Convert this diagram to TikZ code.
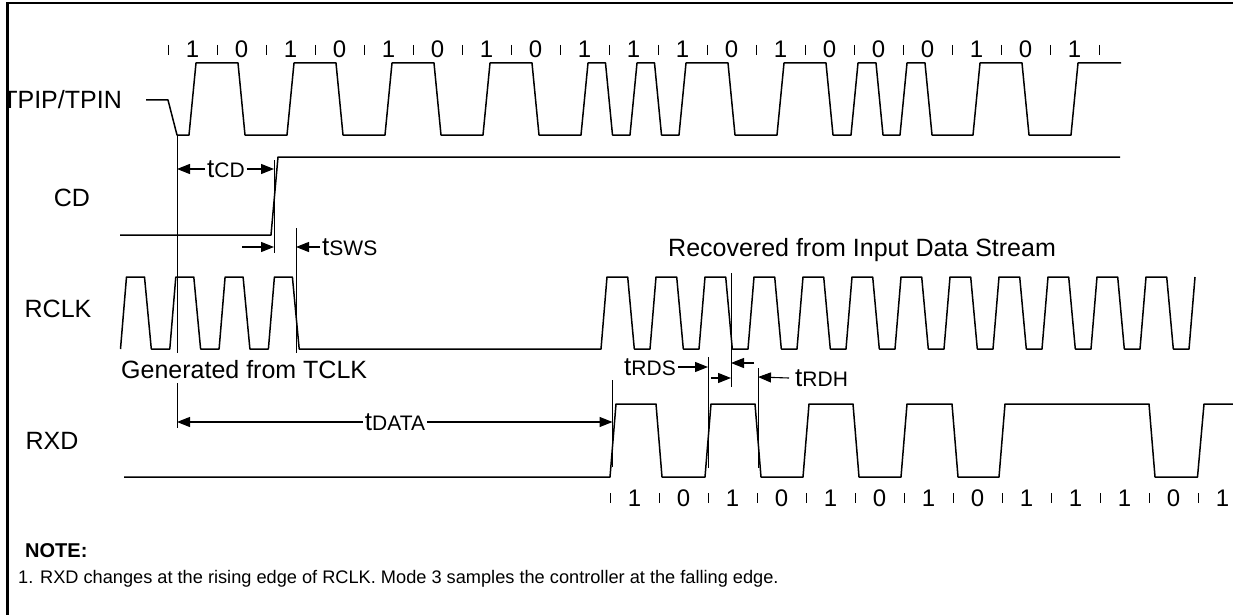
\documentclass[tikz,border=0pt]{standalone}
\usepackage{fontspec}
\setmainfont{Liberation Sans}
\usetikzlibrary{arrows.meta}
\newcommand\tsig[1]{{\fontsize{26}{30}\selectfont t}{\fontsize{21}{25}\selectfont #1}}
\begin{document}
\begin{tikzpicture}[x=1pt,y=-1pt,
  wave/.style={line width=1.5pt, line join=round},
  vline/.style={line width=0.9pt},
  dim/.style={line width=1.1pt, -{Triangle[length=13pt,width=10pt]}},
  lbl/.style={font=\fontsize{25}{30}\selectfont, inner sep=0pt, text height=18pt, text depth=0pt},
  bit/.style={font=\fontsize{24}{28}\selectfont, inner sep=0pt, text height=17pt, text depth=0pt},
  tk/.style={line width=1pt},
  note/.style={font=\fontsize{18.2}{22}\selectfont, inner sep=0pt, text height=13pt, text depth=0pt, anchor=west}]
\useasboundingbox (0,0) rectangle (1233,615);

% labels
\node[lbl, anchor=east] (tpip) at (122,100) {TPIP/TPIN};
\node[lbl] (cd) at (72,197) {CD};
\node[lbl] (rclk) at (58,308) {RCLK};
\node[lbl] (rxd) at (52,440) {RXD};
\node[lbl, anchor=west] (gen) at (121,369) {Generated from TCLK};
\node[lbl, anchor=west] (rec) at (668,247) {Recovered from Input Data Stream};

% top bit row
\foreach \b [count=\i from 0] in {1,0,1,0,1,0,1,0,1,1,1,0,1,0,0,0,1,0,1}
  \node[bit] (tb\i) at (192.5+49*\i,49.5) {\b};
\foreach \i in {0,...,19}
  \draw[tk] (168+49*\i,45) -- (168+49*\i,55);

% bottom bit row
\foreach \b [count=\i from 0] in {1,0,1,0,1,0,1,0,1,1,1,0,1}
  \node[bit] (bb\i) at (634.5+49*\i,497.5) {\b};
\foreach \i in {0,...,12}
  \draw[tk] (610+49*\i,493) -- (610+49*\i,503);

% TPIP/TPIN
\draw[wave] (146,100) -- (168,100) -- (177,135)
 -- (189,135) -- (196,63) -- (238,63) -- (245,135)
 -- (287,135) -- (294,63) -- (336,63) -- (343,135)
 -- (385,135) -- (392,63) -- (434,63) -- (441,135)
 -- (483,135) -- (490,63) -- (532,63) -- (539,135)
 -- (581,135) -- (588,63) -- (605.5,63) -- (612.5,135)
 -- (630,135) -- (637,63) -- (654.5,63) -- (661.5,135)
 -- (679,135) -- (686,63) -- (728,63) -- (735,135)
 -- (777,135) -- (784,63) -- (826,63) -- (833,135)
 -- (851,135) -- (858,63) -- (876,63) -- (883,135)
 -- (900,135) -- (907,63) -- (925,63) -- (932,135)
 -- (973,135) -- (980,63) -- (1022,63) -- (1029,135)
 -- (1071,135) -- (1078,63) -- (1121,63);

% CD
\draw[wave] (120,235) -- (271,235) -- (278,157) -- (1120,157);

% RCLK
\draw[wave] (120.5,349)
  \foreach \k in {0,...,3} { -- (120.5+49.3*\k,349) -- (126.5+49.3*\k,277) -- (144.5+49.3*\k,277) -- (151.3+49.3*\k,349) }
  -- (601,349) -- (607,277)
  \foreach \k in {0,...,11} { -- (627.7+49*\k,277) -- (634.3+49*\k,349) -- (650+49*\k,349) -- (656+49*\k,277) };

% RXD
\draw[wave] (124,477) -- (610,477) -- (616,404) -- (656,404) -- (662,477)
 -- (705,477) -- (711,404) -- (755,404) -- (761,477)
 -- (803,477) -- (809,404) -- (853,404) -- (859,477)
 -- (901,477) -- (907,404) -- (952,404) -- (958,477)
 -- (999,477) -- (1005,404) -- (1149,404) -- (1155,477)
 -- (1197.5,477) -- (1204,404) -- (1233,404);

% reference lines
\draw[vline] (177,135) -- (177,353);
\draw[vline] (177,383) -- (177,428);
\draw[vline] (274,160) -- (274,253);
\draw[vline] (296,228) -- (296,353);
\draw[vline] (612.5,380) -- (612.5,467);
\draw[vline] (708,357) -- (708,468);
\draw[vline] (731,273) -- (731,387);
\draw[vline] (758,368) -- (758,468);

% tCD
\node[inner sep=0pt] (tcd) at (226,169) {\tsig{CD}};
\coordinate (cdl) at (177,169);
\coordinate (cdr) at (274,169);
\draw[dim] ([xshift=-2pt]tcd.west) -- (cdl);
\draw[dim] ([xshift=2pt]tcd.east) -- (cdr);

% tSWS
\coordinate (swsa) at (242,247);
\coordinate (swsb) at (274,247);
\draw[dim] (swsa) -- (swsb);
\node[inner sep=0pt, anchor=west] (tsws) at (322,247) {\tsig{SWS}};
\coordinate (swsc) at (296,247);
\draw[dim] ([xshift=-2pt]tsws.west) -- (swsc);

% tDATA
\node[inner sep=0pt] (tdata) at (395,422) {\tsig{DATA}};
\coordinate (dl) at (177,422);
\coordinate (dr) at (612.5,422);
\draw[dim] ([xshift=-2pt]tdata.west) -- (dl);
\draw[dim] ([xshift=2pt]tdata.east) -- (dr);

% tRDS / tRDH
\node[inner sep=0pt, anchor=east] (trds) at (676,367) {\tsig{RDS}};
\coordinate (rdsa) at (708,367);
\draw[dim] ([xshift=2pt]trds.east) -- (rdsa);
\coordinate (rdsb) at (711,378);
\coordinate (rdsc) at (731,378);
\draw[dim] (rdsb) -- (rdsc);
\coordinate (rdhb) at (754,363);
\coordinate (rdhc) at (731,363);
\draw[dim] (rdhb) -- (rdhc);
\node[inner sep=0pt, anchor=west] (trdh) at (795,378) {\tsig{RDH}};
\coordinate (rdhd) at (758,377);
\draw[dim] ([xshift=-6pt]trdh.west) -- (rdhd);

% note
\node[note, font=\bfseries\fontsize{20}{24}\selectfont, text height=14.5pt] (notehead) at (25,550) {NOTE:};
\node[note] (note1) at (18,577) {1. RXD changes at the rising edge of RCLK. Mode 3 samples the controller at the falling edge.};

% frame
\fill[white] (0,0) rectangle (6,615);
\draw[line width=2.5pt] (7.5,615) -- (7.5,3) -- (1233,3);
\end{tikzpicture}
\end{document}
